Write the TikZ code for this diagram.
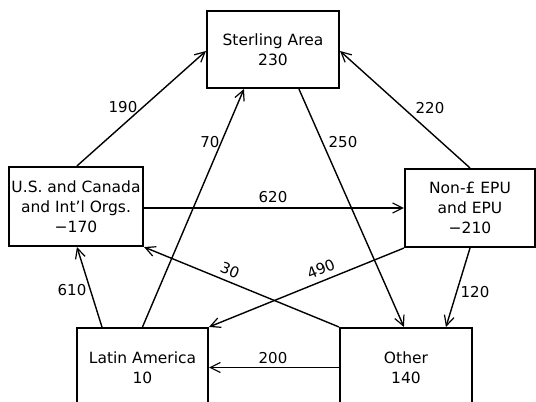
\documentclass[tikz,border=0pt]{standalone}
\usepackage{fontspec}
\setmainfont{DejaVu Sans}
\usetikzlibrary{arrows.meta,calc}
\begin{document}
\begin{tikzpicture}[x=1pt,y=-1pt,
  box/.style={draw, line width=2.1pt, align=center, font=\fontsize{15.5}{20}\selectfont, inner sep=0pt},
  flow/.style={line width=1.4pt, -{Straight Barb[length=10pt,width=10pt,line width=1.2pt]}},
  lbl/.style={font=\fontsize{15}{18}\selectfont, inner sep=0pt}]
\useasboundingbox (0,0) rectangle (536,402);
\clip (0,0) rectangle (536,402);
\fill[white] (0,0) rectangle (536,402);

\node[box, minimum width=132pt, minimum height=77pt] (st) at (273,49.5) {Sterling Area\\230};
\node[box, minimum width=134pt, minimum height=79pt] (us) at (76,206.5) {U.S. and Canada\\and Int'l Orgs.\\−170};
\node[box, minimum width=130pt, minimum height=78pt] (nf) at (470,208) {Non-£ EPU\\and EPU\\−210};
\node[box, minimum width=131pt, minimum height=79pt] (la) at (142.5,367.5) {Latin America\\10};
\node[box, minimum width=132pt, minimum height=79pt] (ot) at (406,367.5) {Other\\140};

\draw[flow] ($(us.north west)+(69,0)$) -- ($(st.west)+(0,1.5)$);
\draw[flow] (la.north) -- ($(st.south west)+(38,0)$);
\draw[flow] ($(st.south west)+(93,0)$) -- ($(ot.north west)+(65,0)$);
\draw[flow] (nf.north) -- ($(st.east)+(0,1.5)$);
\draw[flow] (nf.west -| us.east) -- (nf.west);
\draw[flow] (ot.north west) -- (us.south east);
\draw[flow] (nf.south west) -- (la.north east);
\draw[flow] (nf.south) -- ($(ot.north west)+(107,0)$);
\draw[flow] ($(la.north west)+(26,0)$) -- ($(us.south west)+(69,0)$);
\draw[flow] (ot.west) -- (la.east);

\node[lbl] (l190) at (123,107) {190};
\node[lbl] (l70) at (210,142) {70};
\node[lbl] (l250) at (343,142) {250};
\node[lbl] (l220) at (430,108) {220};
\node[lbl] (l620) at (273,197) {620};
\node[lbl, rotate=-22.6] (l30) at (230,270) {30};
\node[lbl, rotate=22.4] (l490) at (321,269) {490};
\node[lbl] (l120) at (475,292) {120};
\node[lbl] (l610) at (72,290) {610};
\node[lbl] (l200) at (273,358) {200};
\end{tikzpicture}
\end{document}
